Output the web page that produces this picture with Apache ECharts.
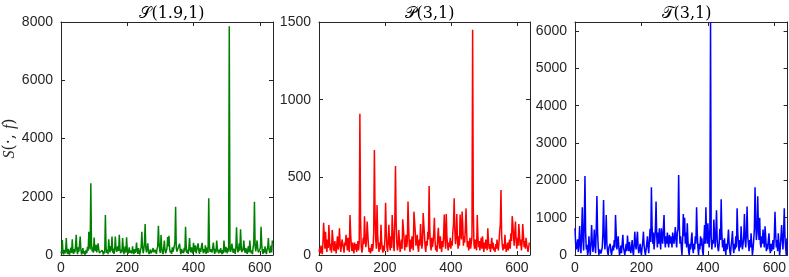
<!DOCTYPE html>
<html><head><meta charset="utf-8">
<script src="https://cdn.jsdelivr.net/npm/echarts@6/dist/echarts.min.js"></script>
<style>html,body{margin:0;padding:0;background:#fff}#c{width:789px;height:277px}</style>
</head><body><div id="c"></div>
<script>
// sample spacing along x (each stored value is one sample, every 2 units)
const xStep = 2;
const xTicks = [0, 200, 400, 600];
const titles = ['𝒮(1.9,1)', '𝒫(3,1)', '𝒯(3,1)'];
const yMax = [8000, 1500, 6240];
const yInterval = [2000, 500, 1000];

const seriesS = [
120,40,515,90,20,180,60,150,580,100,30,210,80,10,160,250,70,540,130,40,
200,90,320,690,150,30,260,110,60,630,180,20,90,240,50,130,10,80,170,60,
280,150,800,320,190,2460,400,120,260,80,600,210,140,350,90,30,400,180,70,20,
110,40,160,90,20,130,60,1370,250,70,180,30,540,200,90,310,150,630,80,220,
40,170,630,260,110,50,300,140,690,220,60,180,90,580,240,30,150,300,80,610,
190,40,120,260,70,10,150,50,300,110,30,200,80,160,430,120,40,240,90,20,
160,280,800,300,60,180,420,1060,250,90,140,400,120,30,80,190,60,20,150,240,
90,30,180,110,40,210,300,1000,420,150,70,690,260,100,30,220,500,180,60,140,
230,620,290,660,200,80,150,40,260,110,50,300,450,1660,240,120,60,180,90,390,
140,30,210,80,160,60,250,120,970,300,70,180,40,220,580,190,90,260,130,50,
420,210,120,330,60,180,280,400,150,40,230,110,300,420,170,60,200,90,330,40,
150,260,70,1950,320,110,50,190,80,260,430,150,40,210,90,500,220,130,60,180,
80,240,110,30,170,60,500,190,90,280,140,60,250,120,7850,260,110,50,390,180,
70,220,130,40,300,950,260,90,180,400,150,880,330,100,50,210,500,160,80,240,
120,40,190,300,90,500,210,60,150,30,260,420,1830,300,120,60,500,220,90,30,
180,260,970,350,110,40,200,80,300,140,30,170,250,580,200,70,150,320,90,500
];
const seriesP = [
20,43,10,60,30,5,80,208,120,40,150,60,20,100,45,193,90,30,70,15,
160,110,40,25,90,50,10,70,120,35,60,172,80,20,55,100,110,45,15,80,
60,130,90,30,110,50,20,257,140,60,25,80,40,10,80,35,70,20,50,90,
30,80,910,240,60,15,40,110,70,250,120,50,90,215,140,60,20,45,10,30,
70,25,50,140,676,260,100,40,322,130,60,20,80,35,195,90,40,15,60,25,
110,337,150,50,20,90,195,70,30,120,45,257,160,60,25,230,573,210,80,30,
60,160,90,20,50,100,40,230,235,110,30,70,130,50,90,345,180,60,20,100,
40,120,80,30,279,270,150,60,90,130,50,20,100,60,200,110,40,80,270,279,
120,50,20,90,60,150,100,444,170,60,30,110,50,80,140,240,90,30,60,20,
110,175,80,40,120,60,20,90,50,130,260,100,40,264,120,60,30,80,50,110,
40,90,60,150,200,365,160,70,130,264,90,40,120,60,260,150,100,280,200,60,
120,80,180,300,140,50,90,30,60,110,40,80,120,1450,300,70,40,100,60,30,
257,120,50,90,30,70,110,40,120,60,20,80,40,100,60,30,172,90,40,70,
20,60,110,40,80,30,50,20,70,40,100,60,30,80,150,200,418,120,60,30,
70,40,130,60,20,50,80,30,60,100,40,140,90,250,200,120,60,150,215,90,
40,110,60,200,140,60,100,30,80,200,130,50,90,40,110,70,60,20,50,80
];
const seriesT = [
715,300,150,190,420,80,350,777,200,50,600,1280,400,120,900,2117,600,150,270,0,
100,500,200,0,300,800,350,80,250,680,300,50,700,1580,600,200,0,150,100,40,
0,200,600,1470,500,150,400,1070,300,80,0,200,150,300,100,0,50,250,120,400,
200,1070,600,150,300,500,200,0,100,250,50,300,540,200,100,0,150,300,100,520,
250,100,350,150,50,200,400,100,0,250,625,300,150,400,625,200,50,150,300,100,
0,200,350,625,250,100,0,150,300,500,200,50,400,700,350,1815,800,300,600,150,
400,700,1430,500,200,600,300,715,400,150,715,500,300,700,1070,400,200,500,300,600,
350,200,540,300,500,400,200,600,450,300,500,750,400,200,600,700,2140,800,300,500,
200,0,400,1100,500,1000,300,600,200,850,400,100,0,300,150,400,600,200,50,300,
150,500,300,1280,600,200,0,300,150,500,250,450,100,0,400,800,300,1280,500,300,
850,400,200,700,6240,500,150,400,300,950,500,200,600,1200,400,200,100,300,700,400,
1490,600,200,400,100,450,200,0,300,150,400,680,300,100,0,250,400,640,200,50,
300,150,500,200,1250,600,300,100,400,200,770,400,150,300,500,1100,400,200,600,1300,
500,300,100,400,200,580,300,0,150,400,700,1815,900,400,600,1570,800,400,1000,300,
200,500,300,680,400,200,770,500,100,300,150,400,580,200,50,300,100,250,400,150,
500,1160,600,200,400,100,580,300,0,200,500,800,400,150,600,1250,500,200,0,450
];
const allSeries = [seriesS, seriesP, seriesT];
const colors = ['#008000', '#ff0000', '#0000ff'];

const grids = [
  {left: 61, top: 22, width: 212, height: 233},
  {left: 319, top: 22, width: 211, height: 233},
  {left: 575, top: 22, width: 213, height: 233}
];
const axisColor = '#262626';
const font = "'Liberation Sans', Arial, sans-serif";

const xAxis = [], yAxis = [], series = [], title = [];
grids.forEach((g, k) => {
  const base = {
    gridIndex: k, type: 'value', min: 0,
    axisLine: {show: true, onZero: false, lineStyle: {color: axisColor, width: 1}},
    axisTick: {show: true, inside: true, length: 4, lineStyle: {color: axisColor}},
    splitLine: {show: false}
  };
  xAxis.push(Object.assign({}, base, {
    position: 'bottom', max: 640, interval: 200,
    axisLabel: {show: true, color: axisColor, fontSize: 14, fontFamily: font, margin: 6,
      showMaxLabel: false, formatter: v => xTicks.includes(v) ? String(v) : ''}
  }));
  xAxis.push(Object.assign({}, base, {
    position: 'top', max: 640, interval: 200, axisLabel: {show: false}
  }));
  yAxis.push(Object.assign({}, base, {
    position: 'left', max: yMax[k], interval: yInterval[k],
    axisLabel: {show: true, color: axisColor, fontSize: 14, fontFamily: font, margin: 8,
      showMaxLabel: k !== 2, formatter: v => String(v)}
  }, k === 0 ? {
    name: '{i|S}(·, {i|f})', nameLocation: 'middle', nameGap: 42, nameRotate: 90,
    nameTextStyle: {color: axisColor, fontSize: 16, fontFamily: "'DejaVu Serif', 'Liberation Serif', serif",
      rich: {i: {fontStyle: 'italic', fontSize: 16, fontFamily: "'Liberation Serif', serif", color: axisColor}}}
  } : {}));
  yAxis.push(Object.assign({}, base, {
    position: 'right', max: yMax[k], interval: yInterval[k], axisLabel: {show: false}
  }));
  series.push({
    type: 'line', xAxisIndex: 2 * k, yAxisIndex: 2 * k, showSymbol: false, symbol: 'none',
    animation: false, clip: true,
    lineStyle: {color: colors[k], width: 1.5},
    data: allSeries[k].map((v, i) => [i * xStep, v])
  });
  title.push({
    text: titles[k], left: g.left + g.width / 2, top: 1, textAlign: 'center',
    textStyle: {color: '#000', fontSize: 16, fontWeight: 'normal',
      fontFamily: "'DejaVu Serif', 'Liberation Serif', serif"}
  });
});

const chart = echarts.init(document.getElementById('c'), null, {renderer: 'canvas'});
chart.setOption({animation: false, backgroundColor: '#fff', title, grid: grids, xAxis, yAxis, series});
</script></body></html>
